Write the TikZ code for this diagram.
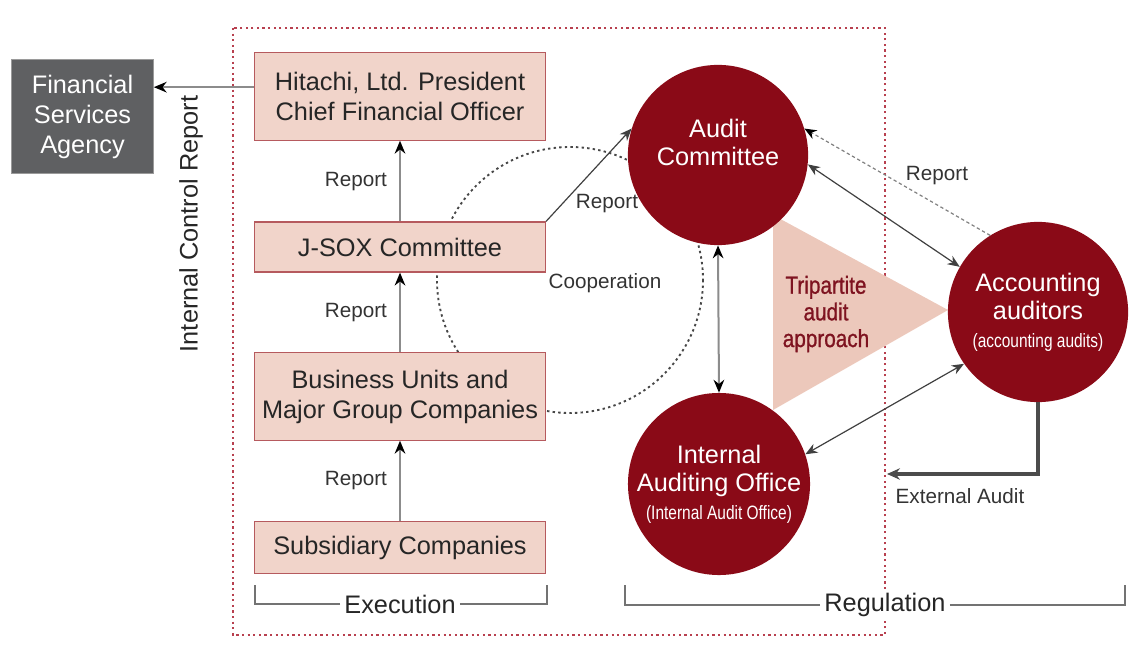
\documentclass[tikz,border=0pt]{standalone}
\usepackage{fontspec}
\setmainfont{Liberation Sans}
\newfontfamily\narrowfont[FakeStretch=0.8]{Liberation Sans}
\newfontfamily\tripfont[FakeStretch=0.84,FakeBold=0.9]{Liberation Sans}
\usetikzlibrary{arrows.meta,positioning,calc}
\definecolor{hred}{HTML}{8A0A17}
\definecolor{hpink}{HTML}{F1D4CA}
\definecolor{hpinkd}{HTML}{B65A5E}
\definecolor{htri}{HTML}{ECC8BB}
\definecolor{htrit}{HTML}{7E1320}
\definecolor{hgray}{HTML}{5F6062}
\definecolor{hgrayl}{HTML}{9A9A9A}
\definecolor{hline}{HTML}{8C8C8C}
\definecolor{htext}{HTML}{333333}
\definecolor{hframe}{HTML}{B8404F}
\tikzset{
  % pink unit box with a darker red stroke
  unit/.style  = {rectangle, draw=hpinkd, fill=hpink, line width=0.9pt, align=center,
                  text=black!85, font=\fontsize{19}{22.5}\selectfont,
                  minimum width=76.7mm, inner sep=0pt},
  agency/.style = {rectangle, draw=hgrayl, fill=hgray, line width=0.8pt, align=center,
                  text=white, font=\fontsize{19}{22.5}\selectfont,
                  minimum width=37.3mm, minimum height=29.9mm, inner sep=0pt},
  body/.style  = {circle, fill=hred, align=center, text=white, inner sep=0pt,
                  font=\fontsize{19}{21}\selectfont, minimum size=47.5mm},
  lbl/.style   = {font=\fontsize{15.5}{18}\selectfont, text=htext, align=center},
  big lbl/.style = {font=\fontsize{19}{22}\selectfont, text=black!85, align=center},
  lane/.style  = {-{Stealth[length=3.4mm,width=2.8mm,black]}, line width=1.5pt, hline},
  both lane/.style = {{Stealth[length=3.4mm,width=2.8mm,black]}-{Stealth[length=3.4mm,width=2.8mm,black]},
                  line width=1.5pt, hline},
  thin lane/.style = {{Stealth[length=3.2mm,width=2.6mm]}-{Stealth[length=3.2mm,width=2.6mm]},
                  line width=0.9pt, black!75},
  ext lane/.style = {-{Stealth[length=3.4mm,width=3mm]}, line width=2.3pt, black!70},
  brk/.style   = {line width=1.1pt, black!55},
}
\begin{document}
\begin{tikzpicture}[x=0.75pt,y=-0.75pt]
\useasboundingbox (0,0) rectangle (1134,648);
% group frame and cooperation ring
\draw[hframe, line width=1.7pt, dash pattern=on 1.7pt off 2.5pt] (233,28) rectangle (885,635);
\draw[black!72, line width=1.4pt, dash pattern=on 1.8pt off 2.4pt] (570,280) circle (133);
\fill[htri] (773,215) -- (773,410) -- (948,310) -- cycle;
% execution side
\node[agency] (fsa) at (82.5,116.5) {Financial\\Services\\Agency};
\node[unit, minimum height=23mm]   (pres) at (400,96.5) {Hitachi, Ltd. President\\Chief Financial Officer};
\node[unit, minimum height=13.2mm] (jsox) at (400,247) {J-SOX Committee};
\node[unit, minimum height=23mm]   (bu)   at (400,396.5) {Business Units and\\Major Group Companies};
\node[unit, minimum height=13.5mm] (sub)  at (400,547.5) {Subsidiary Companies};
% regulation side
\node[body] (ac)  at (718,155) {Audit\\Committee\\[-2pt]\mbox{}};
\node[body] (iao) at (719,484) {Internal\\Auditing Office\\{\narrowfont\fontsize{14.5}{18}\selectfont (Internal Audit Office)}};
\node[body] (acc) at (1038,312) {Accounting\\auditors\\{\narrowfont\fontsize{14.5}{18}\selectfont (accounting audits)}};
\node[font=\tripfont\fontsize{18.5}{20}\selectfont, text=htrit, align=center] (tri) at (826,314)
  {Tripartite\\audit\\approach};
% connectors
\draw[lane] ([yshift=7pt]pres.west) -- ([yshift=7pt]pres.west -| fsa.east);
\draw[lane] (jsox.north) -- node[lbl, left=2mm] {Report} (pres.south);
\draw[lane] (bu.north) -- node[lbl, left=2mm] {Report} (jsox.south);
\draw[lane] (sub.north) -- node[lbl, left=2mm] {Report} (bu.south);
\draw[-{Stealth[length=3.2mm,width=2.6mm]}, line width=0.9pt, black!75] (jsox.north east) -- (ac.163);
\draw[both lane] (ac.south) -- (iao.north);
\draw[thin lane] (ac.-6) -- (acc.150);
\draw[-{Stealth[length=3.2mm,width=2.6mm,black]}, line width=0.9pt, black!50, dash pattern=on 2.5pt off 2pt] (acc.122) -- (ac.17);
\draw[thin lane] (iao.19) -- (acc.215);
\coordinate (extin) at (887,474);
\draw[ext lane] (acc.south) |- (extin);
% labels
\node[lbl] at (607,204) {Report};
\node[lbl] at (937,176) {Report};
\node[lbl] at (605,283) {Cooperation};
\node[lbl] at (960,496) {External Audit};
\node[big lbl, rotate=90] at (191,224) {Internal Control Report};
% brackets
\node[big lbl, fill=white, inner sep=3pt] (exec) at (400,604) {Execution};
\draw[brk] (exec.west) -| (255,585);
\draw[brk] (exec.east) -| (547,585);
\node[big lbl, fill=white, inner sep=3pt] (regu) at (885,605) {Regulation};
\draw[brk] (regu.west) -| (625,585);
\draw[brk] (regu.east) -| (1125,585);
\end{tikzpicture}
\end{document}
